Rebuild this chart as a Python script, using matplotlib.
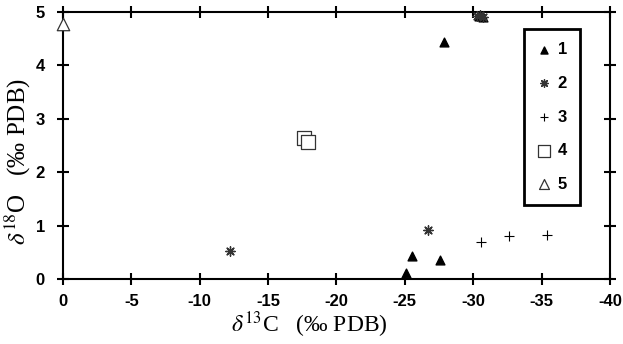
import matplotlib
matplotlib.use("Agg")
import matplotlib.pyplot as plt

plt.rcParams["mathtext.fontset"] = "stix"

# series: d13C (x), d18O (y)
s1_x = [-25.1, -25.5, -27.6, -27.9, -30.4, -30.7]
s1_y = [0.11, 0.43, 0.35, 4.43, 4.93, 4.91]
s2_x = [-12.2, -26.7, -30.3, -30.5, -30.7]
s2_y = [0.52, 0.91, 4.93, 4.95, 4.91]
s3_x = [-30.6, -32.6, -35.4]
s3_y = [0.70, 0.80, 0.82]
s4_x = [-17.6, -17.95]
s4_y = [2.65, 2.57]
s5_x = [0.0]
s5_y = [4.78]

x_ticks = [0, -5, -10, -15, -20, -25, -30, -35, -40]
y_ticks = [0, 1, 2, 3, 4, 5]

fig = plt.figure(figsize=(6.23, 3.44), dpi=100)
ax = fig.add_axes([0.101, 0.189, 0.878, 0.776])

ax.scatter(s1_x, s1_y, marker="^", s=40, color="black", label="1", clip_on=False, zorder=3)
ax.scatter(s2_x, s2_y, marker=(8, 2, 0), s=45, color="#333333", linewidths=1.0,
           label="2", clip_on=False, zorder=3)
ax.scatter(s3_x, s3_y, marker="+", s=50, color="black", linewidths=0.8, label="3",
           clip_on=False, zorder=3)
ax.scatter(s4_x, s4_y, marker="s", s=110, facecolors="white", edgecolors="#333333",
           linewidths=0.9, label="4", zorder=3)
ax.scatter(s5_x, s5_y, marker="^", s=80, facecolors="white", edgecolors="#333333",
           linewidths=0.9, label="5", clip_on=False, zorder=3)

ax.set_xlim(0, -40)
ax.set_ylim(0, 5)
ax.set_xticks(x_ticks)
ax.set_yticks(y_ticks)
ax.set_xticklabels([str(t) for t in x_ticks])
ax.tick_params(direction="inout", length=8, width=1.5, labelsize=12,
               top=True, right=True)
ax.tick_params(axis="x", pad=7)
ax.tick_params(axis="y", pad=9)
for lab in ax.get_xticklabels() + ax.get_yticklabels():
    lab.set_family("Liberation Sans")
    lab.set_weight("bold")
for sp in ax.spines.values():
    sp.set_linewidth(1.5)

ax.set_xlabel(r"$\delta^{13}$C   (‰ PDB)", family="Liberation Serif", fontsize=17,
              labelpad=0, x=0.45)
ax.set_ylabel(r"$\delta^{18}$O   (‰ PDB)", family="Liberation Serif", fontsize=18,
              labelpad=2, y=0.44)

leg = ax.legend(loc="upper right", bbox_to_anchor=(0.946, 0.937), borderaxespad=0,
                fancybox=False, edgecolor="black", framealpha=1, handletextpad=0.4,
                labelspacing=1.12, borderpad=0.8, handlelength=0.8, markerscale=0.8,
                prop={"family": "Liberation Sans", "weight": "bold", "size": 12})
leg.get_frame().set_linewidth(2)

fig.savefig("out.png", dpi=100)
